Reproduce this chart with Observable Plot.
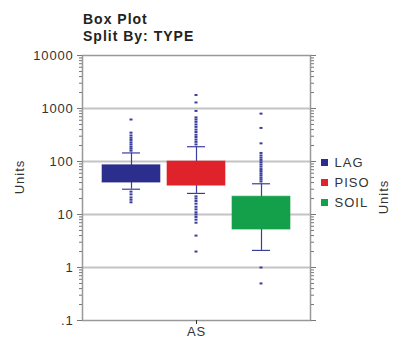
<!DOCTYPE html>
<html><head><meta charset="utf-8">
<script src="https://cdn.jsdelivr.net/npm/d3@7"></script>
<script src="https://cdn.jsdelivr.net/npm/@observablehq/plot@0.6"></script>
<style>
body{margin:0;background:#fff;font-family:"Liberation Sans",Arial,sans-serif;}
#wrap{position:relative;width:393px;height:338px;overflow:hidden;}
#title{position:absolute;left:83px;top:11px;font-weight:bold;font-size:14px;letter-spacing:1px;line-height:17px;color:#222;}
#legend{position:absolute;left:321px;top:155px;color:#333;}
#legend [class$="-swatch"]{padding-bottom:5px !important;height:15px;}
#chart{position:absolute;left:0;top:0;}
.ylab{position:absolute;font-size:13px;letter-spacing:1px;color:#333;transform:translate(-50%,-50%) rotate(-90deg);white-space:nowrap;line-height:14px;}
</style></head><body>
<div id="wrap"><div id="chart"></div><div id="title">Box Plot<br>Split By: TYPE</div><div id="legend"></div>
<div class="ylab" id="ylabL" style="left:20px;top:177px"></div>
<div class="ylab" id="ylabR" style="left:384px;top:197px"></div>
</div>
<script>
const types = ["LAG", "PISO", "SOIL"];
const colors = ["#2b2e8c", "#e0232a", "#14a04b"];
const q1 = [40, 35, 5.2];
const q3 = [85, 100, 21.7];
const whiskerLow = [30, 25, 2.1];
const whiskerHigh = [145, 190, 38];
const outliersLAG = [27, 24, 21, 19, 17, 160, 175, 190, 210, 230, 255, 280, 310, 350, 620];
const outliersPISO = [22, 20, 18, 16, 14, 12.5, 11, 10, 9, 8, 7, 4, 2, 210, 235, 260, 290, 320, 360, 400, 450, 500, 560, 620, 680, 900, 1300, 1800];
const outliersSOIL = [1.0, 0.5, 42, 46, 50, 55, 60, 66, 72, 80, 88, 97, 107, 118, 130, 145, 220, 430, 800];
const yTicks = [0.1, 1, 10, 100, 1000, 10000];
const yTickLabels = [".1", "1", "10", "100", "1000", "10000"];
const xLabel = "AS";
const yLabel = "Units";

const rows = types.map((t, i) => ({type: t, fx: xLabel, q1: q1[i], q3: q3[i], lo: whiskerLow[i], hi: whiskerHigh[i]}));
const outliers = [
  ...outliersLAG.map(v => ({type: "LAG", fx: xLabel, v})),
  ...outliersPISO.map(v => ({type: "PISO", fx: xLabel, v})),
  ...outliersSOIL.map(v => ({type: "SOIL", fx: xLabel, v}))
];
const lineColor = "#3b3f9c";
const fmt = d => yTickLabels[yTicks.indexOf(d)] ?? "";

const chart = Plot.plot({
  width: 393, height: 338,
  marginTop: 55, marginBottom: 18, marginLeft: 82, marginRight: 83,
  style: {fontFamily: "Liberation Sans, Arial, sans-serif", fontSize: "13px", color: "#333", background: "transparent", letterSpacing: "0.8px"},
  fx: {domain: [xLabel], padding: 0, label: null},
  x: {domain: types, paddingInner: 0.115, paddingOuter: 0.3, axis: null},
  y: {type: "log", domain: [0.1, 10000]},
  color: {domain: types, range: colors},
  marks: [
    Plot.ruleY(yTicks.slice(1, -1), {stroke: "#c4c4c4", strokeWidth: 2}),
    Plot.frame({stroke: "#999", strokeWidth: 1.5}),
    Plot.ruleX(rows, {x: "type", fx: "fx", y1: "lo", y2: "hi", stroke: lineColor, strokeWidth: 1.2}),
    Plot.tickY(rows, {x: "type", fx: "fx", y: "hi", insetLeft: 20, insetRight: 20, stroke: lineColor, strokeWidth: 1.2}),
    Plot.tickY(rows, {x: "type", fx: "fx", y: "lo", insetLeft: 20, insetRight: 20, stroke: lineColor, strokeWidth: 1.2}),
    Plot.tickY(outliers, {x: "type", fx: "fx", y: "v", insetLeft: 27.5, insetRight: 27.5, stroke: lineColor, strokeWidth: 2}),
    Plot.barY(rows, {x: "type", fx: "fx", y1: "q1", y2: "q3", fill: "type", stroke: "type", strokeOpacity: 0.6}),
    Plot.axisY({ticks: 40, tickFormat: () => "", tickSize: 3, stroke: "#777", label: null}),
    Plot.axisY({ticks: yTicks, tickFormat: fmt, tickSize: 5, tickPadding: 4, label: null, stroke: "#777"}),
    Plot.axisY({anchor: "right", ticks: 40, tickFormat: () => "", tickSize: 3, stroke: "#777", label: null}),
    Plot.axisY({anchor: "right", ticks: yTicks, tickFormat: () => "", tickSize: 5, label: null, stroke: "#777"}),
    Plot.axisFx({anchor: "bottom", label: null, tickSize: 4, tickPadding: 2})
  ]
});
document.getElementById("chart").append(chart);
document.getElementById("ylabL").textContent = yLabel;
document.getElementById("ylabR").textContent = yLabel;

const legend = Plot.legend({color: {domain: types, range: colors}, columns: 1, swatchSize: 7, style: {fontFamily: "Liberation Sans, Arial, sans-serif", fontSize: "13px", letterSpacing: "1px", color: "#333"}});
document.getElementById("legend").append(legend);
</script>
</body></html>
